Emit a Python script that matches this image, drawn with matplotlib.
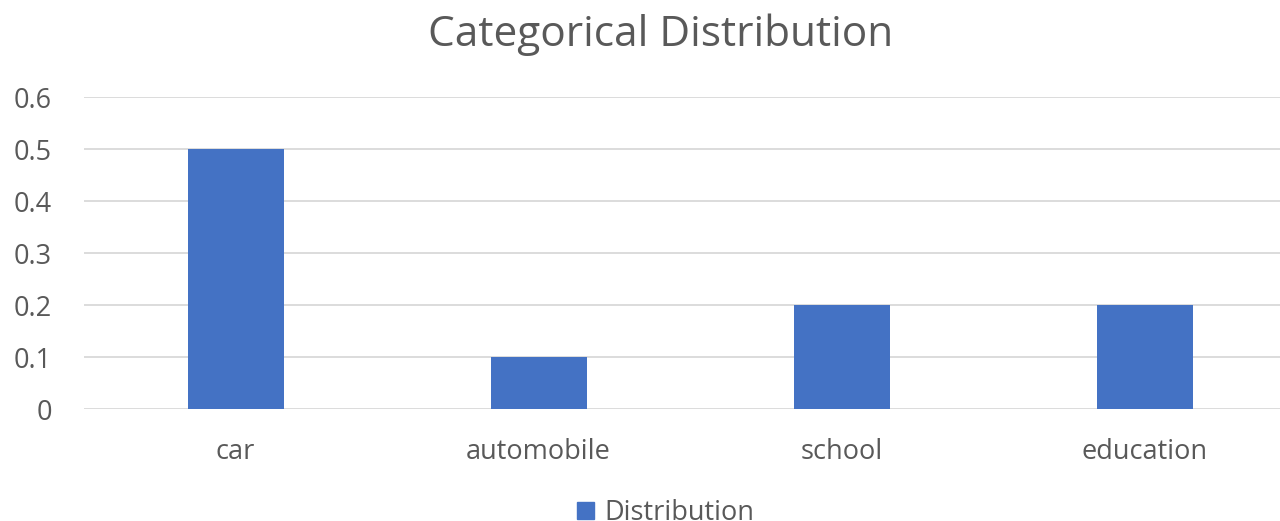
import matplotlib
matplotlib.use("Agg")
import matplotlib.pyplot as plt
from matplotlib.patches import Patch

categories = ["car", "automobile", "school", "education"]
distribution = [0.5, 0.1, 0.2, 0.2]
y_ticks = [0, 0.1, 0.2, 0.3, 0.4, 0.5, 0.6]
y_tick_labels = ["0", "0.1", "0.2", "0.3", "0.4", "0.5", "0.6"]

plt.rcParams["font.family"] = ["Open Sans", "DejaVu Sans"]
text_color = "#595959"
bar_color = "#4472C4"
grid_color = "#D9D9D9"

W, H = 1280, 521
fig = plt.figure(figsize=(W / 100, H / 100), dpi=100)
left, right, top, bottom = 84, 1280, 97, 409
ax = fig.add_axes([left / W, 1 - bottom / H, (right - left) / W, (bottom - top) / H])

slot = 303.0
x = list(range(len(categories)))
ax.bar(x, distribution, width=96 / slot, color=bar_color, zorder=3)

ax.set_xlim(-0.5, -0.5 + (right - left) / slot)
ax.set_ylim(0, 0.6)
ax.set_yticks(y_ticks)
ax.set_yticklabels(y_tick_labels)
ax.set_xticks(x)
ax.set_xticklabels(categories)
ax.grid(axis="y", color=grid_color, linewidth=1.3, zorder=0)
for s in ["top", "right", "left", "bottom"]:
    ax.spines[s].set_visible(False)
ax.tick_params(axis="both", length=0, labelsize=19.5, colors=text_color)
ax.tick_params(axis="x", pad=21)
ax.tick_params(axis="y", pad=23)

fig.text(661 / W, 1 - 35 / H, "Categorical Distribution", ha="center", va="center",
         fontsize=30.5, color=text_color)

leg = fig.legend(handles=[Patch(color=bar_color, label="Distribution")],
                 loc="center", bbox_to_anchor=(666 / W, 1 - 513 / H), frameon=False,
                 fontsize=19.5, handlelength=0.6, handleheight=0.6, handletextpad=0.4,
                 labelcolor=text_color, borderpad=0)

fig.savefig("out.png", dpi=100)
